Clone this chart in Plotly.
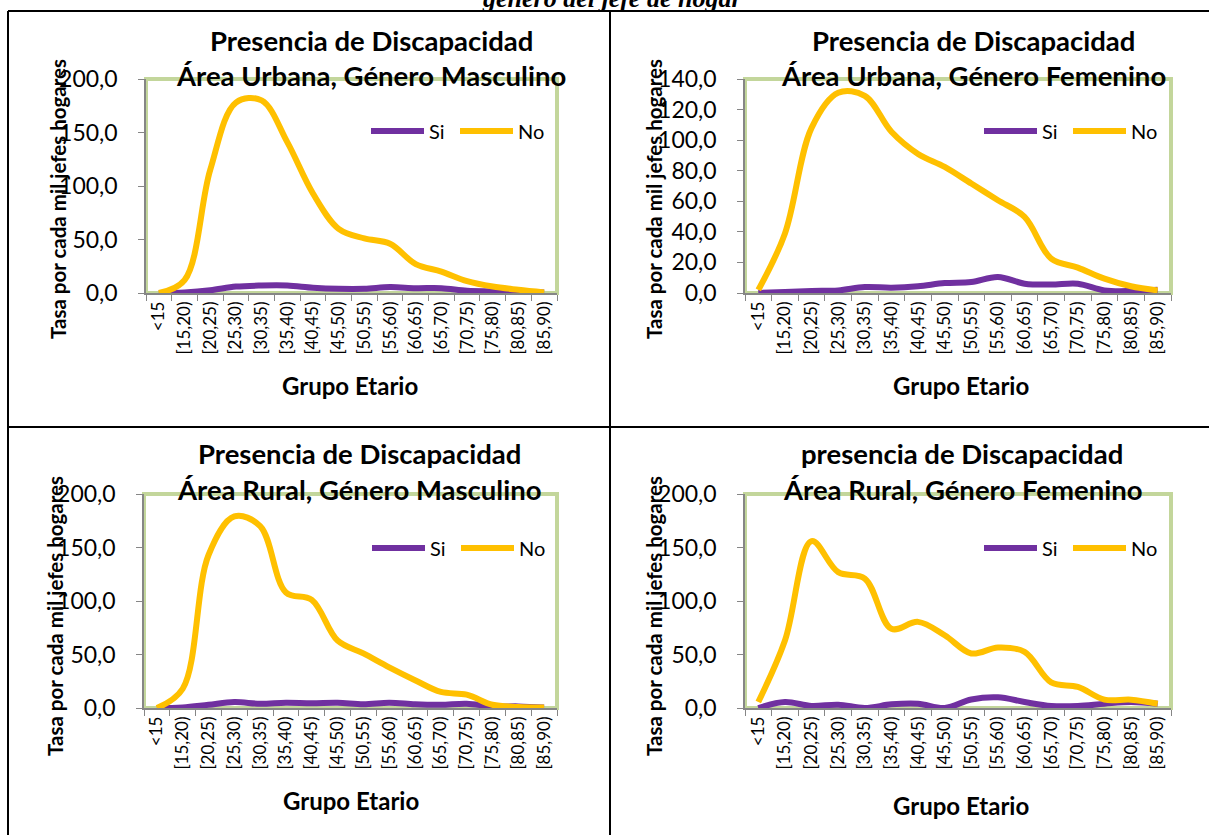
import plotly.graph_objects as go

W, H = 1209, 835

# Grupos de edad (eje x de las cuatro graficas)
grupos = ["<15", "[15,20)", "[20,25)", "[25,30)", "[30,35)", "[35,40)", "[40,45)", "[45,50)",
          "[50,55)", "[55,60)", "[60,65)", "[65,70)", "[70,75)", "[75,80)", "[80,85)", "[85,90)"]

# Tasa por cada mil jefes de hogar
urb_masc_si = [0, 0.5, 2.5, 6, 7, 7, 5, 4, 4, 5.5, 4.5, 4.5, 2, 1.5, 1, 0.5]
urb_masc_no = [0, 12, 115, 178, 180, 141, 93, 60, 51, 46, 27, 20, 11, 6, 3, 0.5]

urb_fem_si = [0, 0.6, 1.3, 1.7, 3.9, 3.5, 4.4, 6.5, 7.2, 10.5, 6.1, 5.5, 6.1, 1.7, 1.3, 2.2]
urb_fem_no = [2, 39, 108, 131, 129, 105.5, 91, 82.5, 71.6, 60.7, 49.8, 22.5, 16.6, 9.4, 4.4, 1.7]

rur_masc_si = [0, 0.5, 3, 5.5, 4, 5, 4.5, 5, 3.5, 5, 3.5, 3, 4, 1.5, 1.5, 0.5]
rur_masc_no = [0, 18, 143, 179, 170, 108, 101, 63, 51, 38, 26, 15, 12.5, 3, 1, 0.5]

rur_fem_si = [0, 5.6, 1.9, 3.1, 0, 3.4, 4, 0, 8, 10, 5.6, 1.9, 1.9, 4, 5.6, 4]
rur_fem_no = [5.6, 63, 156, 127, 121, 74, 80.5, 68, 51, 56.5, 52.5, 24, 19.7, 7.8, 7.8, 4]

titulo_1 = ["Presencia de Discapacidad", "Presencia de Discapacidad",
            "Presencia de Discapacidad", "presencia de Discapacidad"]
titulo_2 = ["Área Urbana, Género Masculino", "Área Urbana, Género Femenino",
            "Área Rural, Género Masculino", "Área Rural, Género Femenino"]
y_max = [200, 140, 200, 200]
y_paso = [50, 20, 50, 50]
series_si = [urb_masc_si, urb_fem_si, rur_masc_si, rur_fem_si]
series_no = [urb_masc_no, urb_fem_no, rur_masc_no, rur_fem_no]

MORADO = "#7030A0"
AMARILLO = "#FFC000"
VERDE = "#C3D69B"
GRIS = "#868686"
FUENTE = "Lato"

# geometria de cada panel en pixeles: x0, x1, y_arriba, y_abajo, centro titulo, y titulos,
# eje y titulo (x, y), eje x titulo (x, y), leyenda (x, y)
paneles = [
    dict(x0=146, x1=557, yt=79, yb=293, tcx=371, ty=(40, 75), ytx=58, yty=199, xtx=350, xty=385, lx=371, ly=131),
    dict(x0=745, x1=1171, yt=79, yb=293, tcx=973, ty=(40, 75), ytx=654, yty=199, xtx=961, xty=385, lx=984, ly=131),
    dict(x0=144, x1=557, yt=494, yb=708, tcx=359, ty=(453, 490), ytx=55, yty=616, xtx=351, xty=800, lx=372, ly=548),
    dict(x0=745, x1=1171, yt=494, yb=708, tcx=962, ty=(453, 490), ytx=654, yty=616, xtx=961, xty=805, lx=984, ly=548),
]


def px(x):
    return x / W


def py(y):
    return 1 - y / H


fig = go.Figure()
shapes = []
annotations = []

for i, p in enumerate(paneles):
    n = "" if i == 0 else str(i + 1)
    xa, ya = "x" + n, "y" + n

    fig.add_trace(go.Scatter(x=grupos, y=series_si[i], mode="lines", name="Si",
                             line=dict(color=MORADO, width=6, shape="spline"),
                             xaxis=xa, yaxis=ya, showlegend=False))
    fig.add_trace(go.Scatter(x=grupos, y=series_no[i], mode="lines", name="No",
                             line=dict(color=AMARILLO, width=6, shape="spline"),
                             xaxis=xa, yaxis=ya, showlegend=False))

    fig.layout["xaxis" + n] = dict(
        domain=[px(p["x0"]), px(p["x1"])], anchor=ya, type="category", automargin=False,
        range=[-0.5, len(grupos) - 0.5], tickson="boundaries", ticks="outside",
        ticklen=6, tickcolor=GRIS, showline=True, linecolor=GRIS, linewidth=1.5,
        showgrid=False, zeroline=False, tickangle=-90,
        tickfont=dict(family=FUENTE, size=17, color="black"))
    fig.layout["yaxis" + n] = dict(
        domain=[py(p["yb"]), py(p["yt"])], anchor=xa, range=[0, y_max[i]], automargin=False,
        dtick=y_paso[i], tick0=0, tickformat=".1f", ticks="outside", ticklen=6,
        tickcolor=GRIS, showline=True, linecolor=GRIS, linewidth=1.5,
        showgrid=False, zeroline=False, ticklabelstandoff=16,
        tickfont=dict(family=FUENTE, size=23, color="black"))

    # borde verde del area de trazado
    shapes.append(dict(type="rect", xref=xa + " domain", yref=ya + " domain",
                       x0=0, x1=1, y0=0, y1=1, layer="below",
                       line=dict(color=VERDE, width=4)))

    # titulos
    for t, ty in zip((titulo_1[i], titulo_2[i]), p["ty"]):
        annotations.append(dict(text="<b>" + t + "</b>", x=px(p["tcx"]), y=py(ty),
                                xref="paper", yref="paper", showarrow=False,
                                xanchor="center", yanchor="middle",
                                font=dict(family=FUENTE, size=27.5, color="black")))
    annotations.append(dict(text="<b>Tasa por cada mil jefes hogares</b>", x=px(p["ytx"]),
                            y=py(p["yty"]), xref="paper", yref="paper", showarrow=False,
                            textangle=-90, xanchor="center", yanchor="middle",
                            font=dict(family=FUENTE, size=20.5, color="black")))
    annotations.append(dict(text="<b>Grupo Etario</b>", x=px(p["xtx"]), y=py(p["xty"]),
                            xref="paper", yref="paper", showarrow=False,
                            xanchor="center", yanchor="middle",
                            font=dict(family=FUENTE, size=24, color="black")))

    # leyenda dibujada a mano (Si / No)
    lx, ly = p["lx"], p["ly"]
    for color, etiqueta, dx in ((MORADO, "Si", 0), (AMARILLO, "No", 89)):
        shapes.append(dict(type="line", xref="paper", yref="paper",
                           x0=px(lx + dx), x1=px(lx + dx + 53), y0=py(ly), y1=py(ly),
                           line=dict(color=color, width=6)))
        annotations.append(dict(text=etiqueta, x=px(lx + dx + 56), y=py(ly),
                                xref="paper", yref="paper", showarrow=False,
                                xanchor="left", yanchor="middle",
                                font=dict(family=FUENTE, size=20, color="black")))

# lineas de la tabla del documento
for x0, y0, x1, y1 in ((8, 11, W, 11), (8, 427, W, 427), (8, 11, 8, H), (610, 11, 610, H)):
    shapes.append(dict(type="line", xref="paper", yref="paper",
                       x0=px(x0), y0=py(y0), x1=px(x1), y1=py(y1),
                       line=dict(color="black", width=2)))

# leyenda del documento, cortada en el borde superior
annotations.append(dict(text="<b><i>género del jefe de hogar</i></b>", x=px(612), y=py(15),
                        xref="paper", yref="paper", showarrow=False,
                        xanchor="center", yanchor="bottom",
                        font=dict(family="Liberation Serif", size=26, color="black")))

fig.update_layout(
    width=W, height=H,
    margin=dict(l=0, r=0, t=0, b=0, pad=0, autoexpand=False),
    paper_bgcolor="white", plot_bgcolor="white",
    separators=",.",
    showlegend=False,
    shapes=shapes,
    annotations=annotations,
)

fig.write_html("out.html", config={"displayModeBar": False},
               post_script="document.body.style.margin='0';document.body.style.overflow='hidden';")
